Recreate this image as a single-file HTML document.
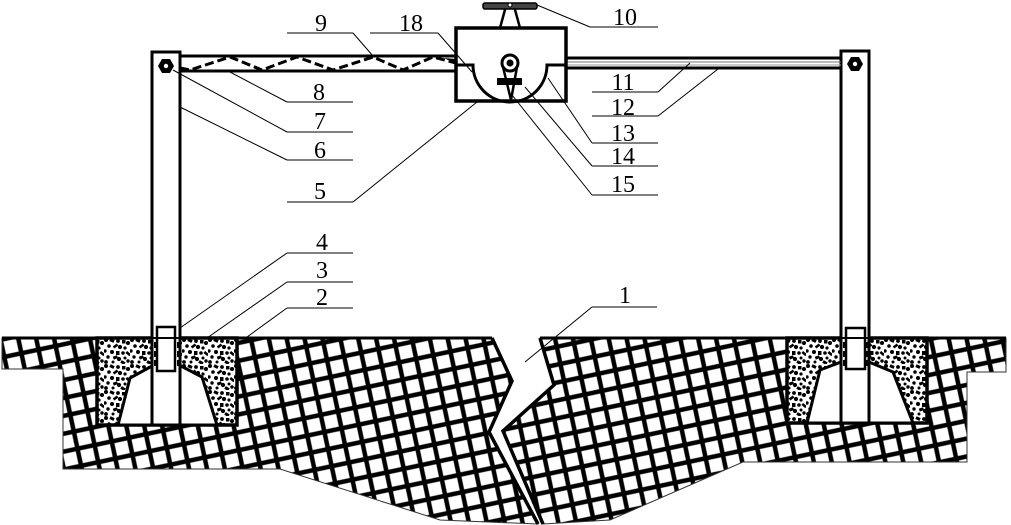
<!DOCTYPE html>
<html>
<head>
<meta charset="utf-8">
<style>
html,body{margin:0;padding:0;background:#fff;}
svg{display:block;}
text{font-family:"Liberation Serif","DejaVu Serif",serif;font-size:24px;fill:#000;}
</style>
</head>
<body>
<svg width="1011" height="525" viewBox="0 0 1011 525" xmlns="http://www.w3.org/2000/svg">
<defs>
<pattern id="brick" width="17.5" height="17.5" patternUnits="userSpaceOnUse" patternTransform="rotate(-12)">
<rect width="17.5" height="17.5" fill="#000"/>
<rect x="2.25" y="2.25" width="13" height="13" fill="#fff"/>
</pattern>
<pattern id="conc" width="26" height="26" patternUnits="userSpaceOnUse">
<rect width="26" height="26" fill="#fff"/>
<g fill="#000">
<circle cx="2" cy="2" r="2"/>
<rect x="6" y="1" width="4.5" height="3" transform="rotate(25 8 2)"/>
<circle cx="14" cy="3" r="1.9"/>
<rect x="18" y="2" width="3.5" height="3.5"/>
<circle cx="24" cy="5" r="2"/>
<circle cx="5" cy="8" r="1.8"/>
<rect x="9" y="7" width="5" height="2.6" transform="rotate(-35 11 8)"/>
<circle cx="16" cy="9" r="2.1"/>
<circle cx="21" cy="10" r="1.6"/>
<circle cx="1" cy="13" r="1.7"/>
<circle cx="8" cy="14" r="2"/>
<rect x="12" y="13" width="3.5" height="4"/>
<circle cx="19" cy="15" r="1.8"/>
<rect x="22" y="14" width="5" height="2.6" transform="rotate(40 24 15)"/>
<circle cx="4" cy="19" r="1.7"/>
<rect x="9" y="18" width="4.5" height="3" transform="rotate(-20 11 19)"/>
<circle cx="15" cy="21" r="2.1"/>
<circle cx="21" cy="20" r="1.5"/>
<circle cx="2" cy="24" r="1.9"/>
<circle cx="9" cy="24" r="1.5"/>
<rect x="17" y="23" width="4.5" height="3" transform="rotate(30 19 24)"/>
<circle cx="24" cy="23" r="1.7"/>
</g>
</pattern>
</defs>

<!-- ground blocks -->
<path d="M2,338 L492,338 L512,381 L489,432 L538,524 L440,520 L280,469 L63,469 L63,369 L2,369 Z" fill="url(#brick)" stroke="#333" stroke-width="1"/>
<path d="M540,338 L1006,338 L1006,372 L967,372 L967,462 L743,462 L610,520 L543,524 L503,431 L554,385 Z" fill="url(#brick)" stroke="#333" stroke-width="1"/>
<!-- crack thick edges -->
<polyline points="492,338 512,381 489,432 538,524" fill="none" stroke="#000" stroke-width="3.5"/>
<polyline points="540,338 554,385 503,431 543,524" fill="none" stroke="#000" stroke-width="3.5"/>
<!-- ground top line -->
<line x1="2" y1="338" x2="492" y2="338" stroke="#000" stroke-width="3"/>
<line x1="540" y1="338" x2="1006" y2="338" stroke="#000" stroke-width="3"/>

<!-- left pit -->
<rect x="97" y="338" width="140" height="87" fill="url(#conc)" stroke="#000" stroke-width="3.5"/>
<polygon points="118,425 130,378 152,366 181,366 202,377 217,425" fill="#fff" stroke="#000" stroke-width="3"/>
<!-- right pit -->
<rect x="787" y="338" width="140" height="85" fill="url(#conc)" stroke="#000" stroke-width="3.5"/>
<polygon points="807,423 820,370 841,362 869,362 893,372 913,423" fill="#fff" stroke="#000" stroke-width="3"/>

<!-- posts -->
<rect x="152" y="52" width="28" height="373" fill="#fff" stroke="#000" stroke-width="3"/>
<rect x="841" y="51" width="28" height="372" fill="#fff" stroke="#000" stroke-width="3"/>
<!-- sleeves -->
<rect x="157" y="327" width="18" height="44" fill="none" stroke="#000" stroke-width="2.5"/>
<rect x="846" y="328" width="19" height="41" fill="none" stroke="#000" stroke-width="2.5"/>
<line x1="152" y1="338" x2="180" y2="338" stroke="#000" stroke-width="2"/>
<line x1="841" y1="338" x2="869" y2="338" stroke="#000" stroke-width="2"/>
<line x1="155" y1="342" x2="155" y2="366" stroke="#000" stroke-width="2" stroke-dasharray="6 3"/>
<line x1="178" y1="342" x2="178" y2="366" stroke="#000" stroke-width="2" stroke-dasharray="6 3"/>
<line x1="844" y1="342" x2="844" y2="366" stroke="#000" stroke-width="2" stroke-dasharray="6 3"/>
<line x1="867" y1="342" x2="867" y2="366" stroke="#000" stroke-width="2" stroke-dasharray="6 3"/>

<!-- nuts -->
<polygon points="174,66 170,73 162,73 158,66 162,59 170,59" fill="#000"/>
<circle cx="166" cy="66" r="2.2" fill="#fff"/>
<polygon points="863,64 859,71 851,71 847,64 851,57 859,57" fill="#000"/>
<circle cx="855" cy="64" r="2.2" fill="#fff"/>

<!-- left rail -->
<line x1="180" y1="56" x2="456" y2="56" stroke="#000" stroke-width="3"/>
<line x1="180" y1="71" x2="456" y2="71" stroke="#000" stroke-width="3"/>
<polyline points="180,68 190,70 230,57 262,70 297,57 333,70 373,57 403,70 433,57 456,63" fill="none" stroke="#000" stroke-width="3" stroke-dasharray="9 4"/>
<polygon points="444,58 456,59 456,64" fill="#000"/>

<!-- right rail -->
<line x1="566" y1="58" x2="841" y2="58" stroke="#000" stroke-width="3"/>
<line x1="566" y1="68" x2="841" y2="68" stroke="#000" stroke-width="3"/>
<line x1="566" y1="62" x2="841" y2="62" stroke="#777" stroke-width="1"/>
<line x1="566" y1="65" x2="841" y2="65" stroke="#999" stroke-width="1"/>

<!-- handle -->
<line x1="506" y1="6" x2="500" y2="28" stroke="#000" stroke-width="2.5"/>
<line x1="514" y1="6" x2="520" y2="28" stroke="#000" stroke-width="2.5"/>
<rect x="483" y="3" width="54" height="6" rx="2" fill="#444" stroke="#000" stroke-width="1.5"/>
<circle cx="510" cy="5" r="2" fill="#fff" stroke="#000" stroke-width="1"/>

<!-- box -->
<rect x="456" y="28" width="110" height="73" fill="#fff" stroke="#000" stroke-width="3.5"/>
<path d="M456,65 L473,65 A37,37 0 0 0 547,65 L566,65" fill="none" stroke="#000" stroke-width="3"/>
<!-- pendulum -->
<path d="M503,67 L511,100 L517,67" fill="#fff" stroke="#000" stroke-width="2.5" stroke-linejoin="round"/>
<circle cx="510" cy="63" r="8" fill="#fff" stroke="#000" stroke-width="3"/>
<circle cx="510" cy="63" r="3.5" fill="#000"/>
<rect x="497" y="78" width="25" height="7" fill="#000"/>

<!-- leader lines & underlines -->
<g stroke="#000" stroke-width="1" fill="none">
<line x1="287" y1="33" x2="353" y2="33"/><line x1="353" y1="33" x2="373" y2="56"/>
<line x1="370" y1="33" x2="438" y2="33"/><line x1="438" y1="33" x2="472" y2="72"/>
<line x1="590" y1="27" x2="658" y2="27"/><line x1="590" y1="27" x2="537" y2="5"/>
<line x1="287" y1="102" x2="353" y2="102"/><line x1="287" y1="102" x2="230" y2="72"/>
<line x1="287" y1="132" x2="353" y2="132"/><line x1="287" y1="132" x2="173" y2="70"/>
<line x1="287" y1="160" x2="353" y2="160"/><line x1="287" y1="160" x2="180" y2="107"/>
<line x1="287" y1="202" x2="353" y2="202"/><line x1="353" y1="202" x2="477" y2="102"/>
<line x1="592" y1="92" x2="658" y2="92"/><line x1="658" y1="92" x2="690" y2="63"/>
<line x1="592" y1="116" x2="658" y2="116"/><line x1="658" y1="116" x2="718" y2="69"/>
<line x1="592" y1="143" x2="658" y2="143"/><line x1="592" y1="143" x2="548" y2="78"/>
<line x1="592" y1="166" x2="658" y2="166"/><line x1="592" y1="166" x2="525" y2="87"/>
<line x1="592" y1="195" x2="658" y2="195"/><line x1="592" y1="195" x2="512" y2="95"/>
<line x1="287" y1="253" x2="353" y2="253"/><line x1="287" y1="253" x2="180" y2="328"/>
<line x1="287" y1="282" x2="353" y2="282"/><line x1="287" y1="282" x2="207" y2="338"/>
<line x1="287" y1="308" x2="353" y2="308"/><line x1="287" y1="308" x2="247" y2="337"/>
<line x1="592" y1="307" x2="657" y2="307"/><line x1="592" y1="307" x2="525" y2="362"/>
</g>

<!-- labels -->
<g text-anchor="middle">
<text x="321" y="31">9</text>
<text x="411" y="31">18</text>
<text x="625" y="25">10</text>
<text x="319" y="100">8</text>
<text x="320" y="129">7</text>
<text x="320" y="158">6</text>
<text x="320" y="199">5</text>
<text x="623" y="90">11</text>
<text x="623" y="115">12</text>
<text x="623" y="141">13</text>
<text x="623" y="164">14</text>
<text x="623" y="192">15</text>
<text x="322" y="250">4</text>
<text x="322" y="278">3</text>
<text x="322" y="305">2</text>
<text x="625" y="303">1</text>
</g>
</svg>
</body>
</html>
